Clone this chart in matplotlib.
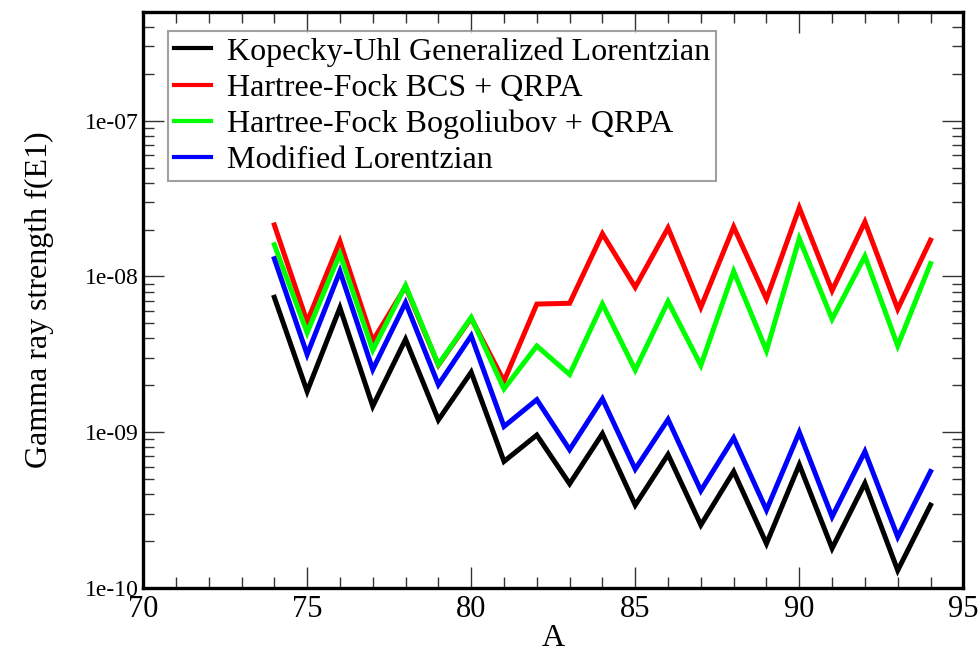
import matplotlib
matplotlib.use("Agg")
import matplotlib.pyplot as plt
from matplotlib.ticker import LogLocator, MultipleLocator, FixedLocator, FixedFormatter, NullFormatter

plt.rcParams['font.family'] = ['Liberation Serif', 'DejaVu Serif']

A = list(range(74, 95))

kopecky_uhl = [7.35e-9, 1.83e-9, 6.3e-9, 1.47e-9, 3.95e-9, 1.2e-9, 2.43e-9, 6.5e-10, 9.6e-10,
               4.67e-10, 9.8e-10, 3.41e-10, 7.2e-10, 2.54e-10, 5.6e-10, 1.93e-10, 6.2e-10,
               1.8e-10, 4.71e-10, 1.3e-10, 3.41e-10]
hf_bcs = [2.14e-8, 5.12e-9, 1.68e-8, 3.86e-9, 8.6e-9, 2.7e-9, 5.4e-9, 2.13e-9, 6.65e-9,
          6.73e-9, 1.88e-8, 8.53e-9, 2.05e-8, 6.34e-9, 2.08e-8, 7.18e-9, 2.76e-8,
          8.12e-9, 2.24e-8, 6.18e-9, 1.71e-8]
hfb = [1.6e-8, 4.36e-9, 1.4e-8, 3.37e-9, 8.75e-9, 2.72e-9, 5.46e-9, 1.9e-9, 3.58e-9,
       2.35e-9, 6.66e-9, 2.51e-9, 6.9e-9, 2.69e-9, 1.08e-8, 3.34e-9, 1.75e-8,
       5.33e-9, 1.35e-8, 3.59e-9, 1.21e-8]
mod_lor = [1.3e-8, 3.16e-9, 1.08e-8, 2.53e-9, 6.8e-9, 2.02e-9, 4.16e-9, 1.09e-9, 1.62e-9,
           7.73e-10, 1.64e-9, 5.8e-10, 1.21e-9, 4.22e-10, 9.2e-10, 3.17e-10, 1.0e-9,
           2.87e-10, 7.53e-10, 2.13e-10, 5.6e-10]

series = [
    ("Kopecky-Uhl Generalized Lorentzian", kopecky_uhl, "#000000"),
    ("Hartree-Fock BCS + QRPA", hf_bcs, "#ff0000"),
    ("Hartree-Fock Bogoliubov + QRPA", hfb, "#00ff00"),
    ("Modified Lorentzian", mod_lor, "#0000ff"),
]

x_ticks = [70, 75, 80, 85, 90, 95]
y_ticks = [1e-10, 1e-9, 1e-8, 1e-7]
y_tick_labels = ["1e-10", "1e-09", "1e-08", "1e-07"]

fig = plt.figure(figsize=(9.8, 6.52), dpi=100)
ax = fig.add_axes([0.146, 0.098, 0.837, 0.884])

for label, vals, color in series:
    ax.plot(A, vals, color=color, lw=3.6, label=label, solid_joinstyle='miter')

ax.set_yscale('log')
ax.set_xlim(70, 95)
ax.set_ylim(1e-10, 5e-7)

ax.xaxis.set_major_locator(FixedLocator(x_ticks))
ax.xaxis.set_minor_locator(MultipleLocator(1))
ax.yaxis.set_major_locator(FixedLocator(y_ticks))
ax.yaxis.set_major_formatter(FixedFormatter(y_tick_labels))
ax.yaxis.set_minor_locator(LogLocator(base=10, subs=range(2, 10)))
ax.yaxis.set_minor_formatter(NullFormatter())

ax.tick_params(which='both', direction='in', top=True, right=True, color='#333333', width=1.0)
ax.tick_params(which='major', length=15)
ax.tick_params(which='minor', length=8)
ax.tick_params(axis='x', which='major', labelsize=22, pad=5)
ax.tick_params(axis='y', which='major', labelsize=17, pad=3)

for s in ax.spines.values():
    s.set_linewidth(2.4)
    s.set_color('black')

ax.set_xlabel("A", fontsize=23, labelpad=0)
ax.set_ylabel("Gamma ray strength f(E1)", fontsize=23, labelpad=22)

leg = ax.legend(loc='upper left', bbox_to_anchor=(0.0305, 0.967), borderaxespad=0,
                fontsize=23, handlelength=1.13, handletextpad=0.5, labelspacing=0.21,
                borderpad=0.2, fancybox=False, frameon=True)
leg.get_frame().set_edgecolor('#888888')
leg.get_frame().set_linewidth(1.5)
for line in leg.get_lines():
    line.set_linewidth(3.0)

fig.savefig("out.png", dpi=100)
